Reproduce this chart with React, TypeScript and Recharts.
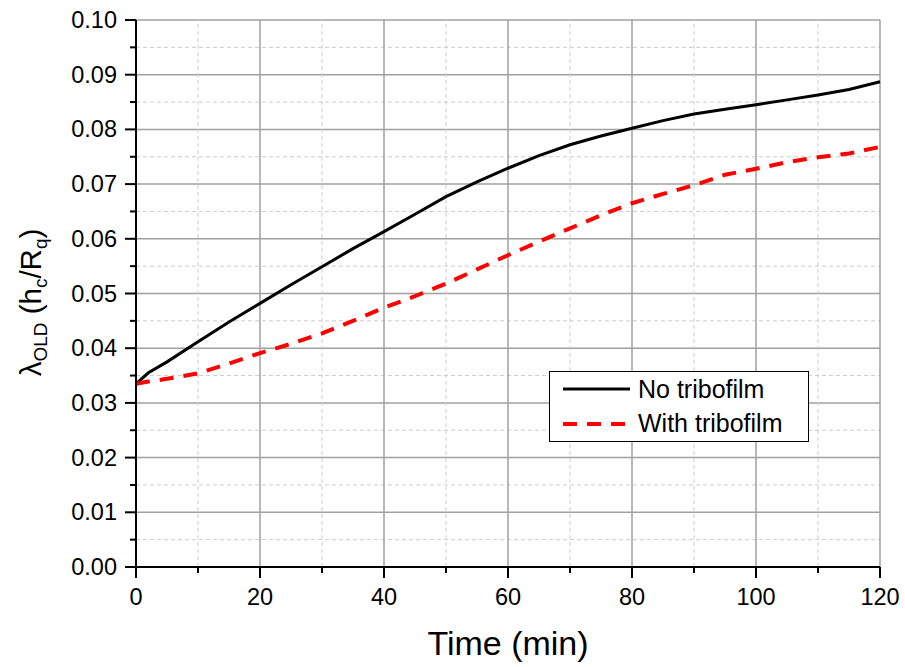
import {
  LineChart,
  Line,
  XAxis,
  YAxis,
  ReferenceLine,
  Legend,
} from "recharts";

const times = [0, 2, 5, 10, 15, 20, 25, 30, 35, 40, 45, 50, 55, 60, 65, 70, 75, 80, 85, 90, 95, 100, 105, 110, 115, 120];

const noTribofilm = [
  0.0335, 0.0355, 0.0375, 0.0412, 0.0448, 0.0482, 0.0516, 0.0549, 0.0582, 0.0613, 0.0645, 0.0677, 0.0704,
  0.0729, 0.0752, 0.0772, 0.0788, 0.0802, 0.0816, 0.0828, 0.0837, 0.0845, 0.0854, 0.0863, 0.0873, 0.0887,
];

const withTribofilm = [
  0.0335, 0.0339, 0.0344, 0.0354, 0.0372, 0.0391, 0.0408, 0.0427, 0.045, 0.0474, 0.0495, 0.0518, 0.0544,
  0.057, 0.0595, 0.0619, 0.0643, 0.0665, 0.0682, 0.0698, 0.0717, 0.0728, 0.074, 0.0749, 0.0756, 0.0768,
];

const xTicks = [0, 10, 20, 30, 40, 50, 60, 70, 80, 90, 100, 110, 120];
const yTicks = [
  0, 0.005, 0.01, 0.015, 0.02, 0.025, 0.03, 0.035, 0.04, 0.045, 0.05, 0.055, 0.06, 0.065, 0.07, 0.075, 0.08,
  0.085, 0.09, 0.095, 0.1,
];

const data = times.map((t, i) => ({
  time: t,
  none: noTribofilm[i],
  film: withTribofilm[i],
}));

const FONT = "'Liberation Sans', Arial, sans-serif";

const isMajorX = (v: number) => v % 20 === 0;
const isMajorY = (v: number) => Math.round(v * 1000) % 10 === 0;

const YTick = (props: any) => {
  const { x, y, payload } = props;
  const v = payload.value;
  const major = isMajorY(v);
  return (
    <g>
      <line x1={x - (major ? 11 : 6)} x2={x} y1={y} y2={y} stroke="#000" strokeWidth={2} />
      {major && (
        <text x={x - 19} y={y} textAnchor="end" dominantBaseline="central" fontSize={23.5} fill="#000" fontFamily={FONT}>
          {v.toFixed(2)}
        </text>
      )}
    </g>
  );
};

const XTick = (props: any) => {
  const { x, y, payload } = props;
  const v = payload.value;
  const major = isMajorX(v);
  return (
    <g>
      <line x1={x} x2={x} y1={y} y2={y + (major ? 11 : 6)} stroke="#000" strokeWidth={2} />
      {major && (
        <text x={x} y={y + 38} textAnchor="middle" fontSize={23.5} fill="#000" fontFamily={FONT}>
          {v}
        </text>
      )}
    </g>
  );
};

const XTitle = (props: any) => {
  const vb = props.viewBox;
  return (
    <text x={vb.x + vb.width / 2} y={vb.y + 88} textAnchor="middle" fontSize={34} fill="#000" fontFamily={FONT}>
      Time (min)
    </text>
  );
};

const YTitle = (props: any) => {
  const vb = props.viewBox;
  const cx = 41;
  const cy = vb.y + vb.height / 2 + 9;
  return (
    <text
      x={cx}
      y={cy}
      transform={`rotate(-90, ${cx}, ${cy})`}
      textAnchor="middle"
      fontSize={29.5}
      fill="#000"
      fontFamily={FONT}
    >
      λ
      <tspan fontSize={19} dy={6}>OLD</tspan>
      <tspan dy={-6}> (h</tspan>
      <tspan fontSize={19} dy={6}>c</tspan>
      <tspan dy={-6}>/R</tspan>
      <tspan fontSize={19} dy={6}>q</tspan>
      <tspan dy={-6}>)</tspan>
    </text>
  );
};

const renderLegend = (props: any) => {
  const items = props.payload || [];
  return (
    <div
      style={{
        width: 258,
        height: 69,
        border: "1.5px solid #000",
        background: "#fff",
        fontFamily: FONT,
        fontSize: 25,
        color: "#000",
        boxSizing: "content-box",
      }}
    >
      {items.map((entry: any) => (
        <div key={entry.value} style={{ display: "flex", alignItems: "center", height: 34.5, paddingLeft: 13 }}>
          <svg width={67} height={8} style={{ marginRight: 8 }}>
            <line
              x1={0}
              x2={67}
              y1={4}
              y2={4}
              stroke={entry.color}
              strokeWidth={entry.payload?.strokeWidth ?? 2}
              strokeDasharray={entry.payload?.strokeDasharray}
            />
          </svg>
          <span style={{ lineHeight: "25px" }}>{entry.value}</span>
        </div>
      ))}
    </div>
  );
};

export default function App() {
  return (
    <div style={{ position: "absolute", left: 0, top: 0, background: "#fff" }}>
      <LineChart width={905} height={667} data={data} margin={{ top: 20, right: 25, bottom: 0, left: 0 }}>
        {yTicks.slice(1).map((v) => (
          <ReferenceLine
            key={`y${v}`}
            y={v}
            stroke={isMajorY(v) ? "#a0a0a0" : "#cccccc"}
            strokeWidth={isMajorY(v) ? 1.5 : 1}
            strokeDasharray={isMajorY(v) ? undefined : "4 3"}
          />
        ))}
        {xTicks.slice(1).map((v) => (
          <ReferenceLine
            key={`x${v}`}
            x={v}
            stroke={isMajorX(v) ? "#a0a0a0" : "#cccccc"}
            strokeWidth={isMajorX(v) ? 1.5 : 1}
            strokeDasharray={isMajorX(v) ? undefined : "4 3"}
          />
        ))}
        <XAxis
          dataKey="time"
          type="number"
          domain={[0, 120]}
          ticks={xTicks}
          interval={0}
          height={100}
          tickSize={0}
          tickMargin={0}
          tickLine={false}
          tick={<XTick />}
          axisLine={{ stroke: "#000", strokeWidth: 2 }}
          label={<XTitle />}
        />
        <YAxis
          type="number"
          domain={[0, 0.1]}
          ticks={yTicks}
          interval={0}
          width={136}
          tickSize={0}
          tickMargin={0}
          tickLine={false}
          tick={<YTick />}
          axisLine={{ stroke: "#000", strokeWidth: 2 }}
          label={<YTitle />}
        />
        <Line
          type="linear"
          dataKey="none"
          name="No tribofilm"
          stroke="#000000"
          strokeWidth={3}
          dot={false}
          isAnimationActive={false}
        />
        <Line
          type="linear"
          dataKey="film"
          name="With tribofilm"
          stroke="#ff0000"
          strokeWidth={4}
          strokeDasharray="14 10"
          dot={false}
          isAnimationActive={false}
        />
        <Legend
          layout="vertical"
          align="center"
          verticalAlign="middle"
          wrapperStyle={{ left: 549, top: 371, width: 261 }}
          content={renderLegend}
        />
      </LineChart>
    </div>
  );
}
